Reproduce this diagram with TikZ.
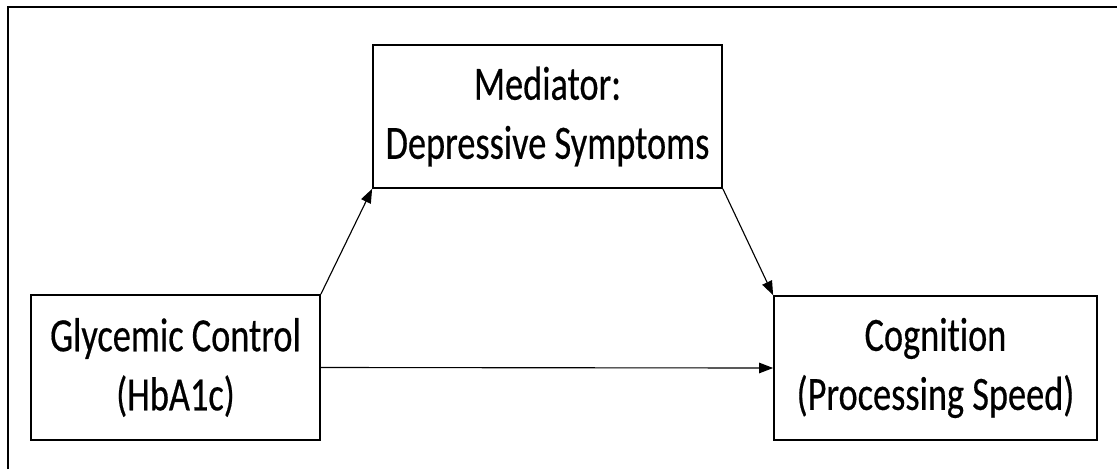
\documentclass[tikz,border=0pt]{standalone}
\usepackage{fontspec}
\setmainfont[FakeStretch=0.76,FakeBold=0.4,Ligatures=NoCommon]{Carlito}
\usetikzlibrary{arrows.meta}
\tikzset{
	varbox/.style={draw, line width=1.2pt, align=center, inner sep=0pt,
		font=\fontsize{34}{42}\selectfont},
	path/.style={line width=0.8pt, -{Triangle[length=10pt,width=7.5pt]}}
}
\begin{document}
\begin{tikzpicture}[x=0.025cm,y=-0.025cm]
	\useasboundingbox (0,0) rectangle (1117,469);
	% frame
	\draw[line width=1.4pt] (8,469) -- (8,7) -- (1117,7);
	% variables
	\node[varbox, minimum width=8.725cm, minimum height=3.575cm] (med) at (547.5,116.5) {Mediator:\\Depressive Symptoms};
	\node[varbox, minimum width=7.225cm, minimum height=3.625cm] (glyc) at (175.5,367.5) {Glycemic Control\\(HbA1c)};
	\node[varbox, minimum width=8.075cm, minimum height=3.6cm] (cog) at (935.5,368) {Cognition\\(Processing Speed)};
	% paths
	\draw[path] (glyc.north east) -- (med.south west);
	\draw[path] (med.south east) -- (cog.north west);
	\draw[path] (glyc.east) -- (cog.west);
\end{tikzpicture}
\end{document}
